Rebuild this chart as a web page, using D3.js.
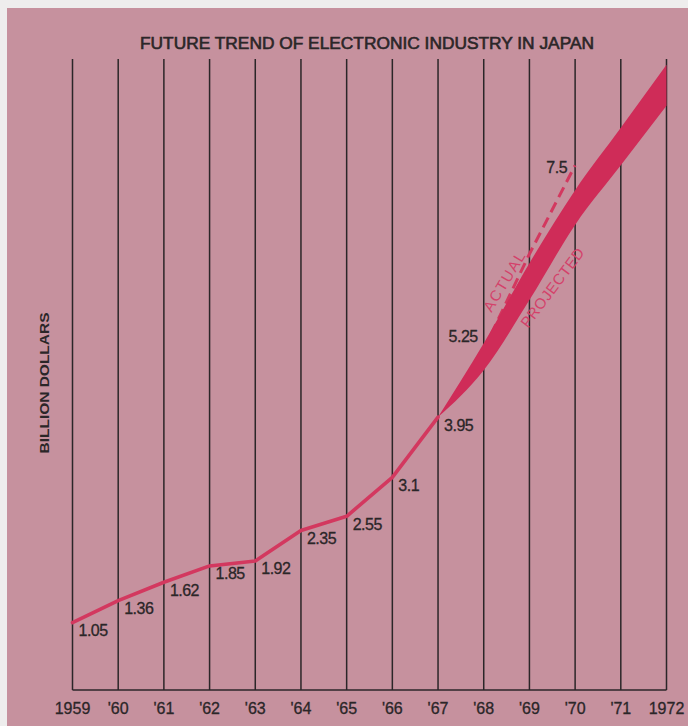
<!DOCTYPE html>
<html>
<head>
<meta charset="utf-8">
<script src="https://cdn.jsdelivr.net/npm/d3@7/dist/d3.min.js"></script>
<style>
  html, body { margin: 0; padding: 0; background: #eeeded; }
  svg { display: block; }
</style>
</head>
<body>
<div id="chart"></div>
<script>
// ---------- data ----------
const years = [1959, 1960, 1961, 1962, 1963, 1964, 1965, 1966, 1967, 1968, 1969, 1970, 1971, 1972];
const yearLabels = ["1959", "'60", "'61", "'62", "'63", "'64", "'65", "'66", "'67", "'68", "'69", "'70", "'71", "1972"];

const pastYears = [1959, 1960, 1961, 1962, 1963, 1964, 1965, 1966, 1967];
const pastValues = [1.05, 1.36, 1.62, 1.85, 1.92, 2.35, 2.55, 3.1, 3.95];

const projYears = [1967, 1968, 1969, 1970, 1971, 1972];
const projLow  = [3.95, 4.61, 5.60, 6.66, 7.50, 8.34];
const projHigh = [3.95, 4.99, 6.12, 7.15, 8.03, 8.92];

const actualYears = [1968, 1969, 1970];
const actualValues = [4.9, 6.25, 7.5];

const extraLabels = [
  { year: 1968, value: 5.25, text: "5.25" },
  { year: 1970, value: 7.5, text: "7.5" }
];

const title = "FUTURE TREND OF ELECTRONIC INDUSTRY IN JAPAN";
const yTitle = "BILLION DOLLARS";

// ---------- layout ----------
const W = 688, H = 726;
const bg = "#c6919e";
const red = "#d3385f";
const band = "#cf2c58";
const ink = "#2b2628";

const svg = d3.select("#chart").append("svg")
  .attr("width", W).attr("height", H);

svg.append("rect").attr("x", 7).attr("y", 8).attr("width", W - 7).attr("height", H - 8).attr("fill", bg);

const x = d3.scaleLinear().domain([1959, 1972]).range([72.5, 666.5]);
const y = d3.scaleLinear().domain([0.1, 9]).range([690, 59]);

const plotTop = y(9), plotBottom = y(0.1);

// vertical grid lines
svg.append("g").selectAll("line").data(years).join("line")
  .attr("x1", d => x(d)).attr("x2", d => x(d))
  .attr("y1", plotTop).attr("y2", plotBottom)
  .attr("stroke", ink).attr("stroke-width", 1.5);

// baseline
svg.append("line")
  .attr("x1", x(1959)).attr("x2", x(1972))
  .attr("y1", plotBottom).attr("y2", plotBottom)
  .attr("stroke", ink).attr("stroke-width", 1.6);

// year labels
svg.append("g").selectAll("text").data(years).join("text")
  .attr("x", d => x(d)).attr("y", plotBottom + 18)
  .attr("text-anchor", "middle").attr("dominant-baseline", "central")
  .attr("font-family", "Liberation Sans, Arial, sans-serif")
  .attr("font-size", 16).attr("fill", ink)
  .attr("stroke", ink).attr("stroke-width", 0.3)
  .text((d, i) => yearLabels[i]);

// title
svg.append("text")
  .attr("x", 367).attr("y", 49)
  .attr("text-anchor", "middle")
  .attr("font-family", "Liberation Sans, Arial, sans-serif")
  .attr("font-size", 16.5)
  .attr("stroke", ink).attr("stroke-width", 0.6)
  .attr("textLength", 454).attr("lengthAdjust", "spacingAndGlyphs")
  .attr("fill", ink).text(title);

// y title
svg.append("text")
  .attr("transform", "translate(49,383) rotate(-90)")
  .attr("text-anchor", "middle")
  .attr("font-family", "Liberation Sans, Arial, sans-serif")
  .attr("font-weight", "bold").attr("font-size", 12)
  .attr("textLength", 141).attr("lengthAdjust", "spacingAndGlyphs")
  .attr("fill", ink).text(yTitle);

// dashed actual line (under band)
const actualData = actualYears.map((d, i) => ({ year: d, v: actualValues[i] }));
svg.append("path").datum(actualData)
  .attr("d", d3.line().x(d => x(d.year)).y(d => y(d.v)))
  .attr("fill", "none").attr("stroke", red).attr("stroke-width", 3)
  .attr("stroke-dasharray", "11,6");

// projected band
const projData = projYears.map((d, i) => ({ year: d, lo: projLow[i], hi: projHigh[i] }));
svg.append("path").datum(projData)
  .attr("d", d3.area().curve(d3.curveMonotoneX)
    .x(d => x(d.year)).y0(d => y(d.lo)).y1(d => y(d.hi)))
  .attr("fill", band);

// past line
const pastData = pastYears.map((d, i) => ({ year: d, v: pastValues[i] }));
svg.append("path").datum(pastData)
  .attr("d", d3.line().x(d => x(d.year)).y(d => y(d.v)))
  .attr("fill", "none").attr("stroke", red).attr("stroke-width", 3.6)
  .attr("stroke-linejoin", "round").attr("stroke-linecap", "round");

// value labels
const lblFont = "Liberation Sans, Arial, sans-serif";
svg.append("g").selectAll("text").data(pastData).join("text")
  .attr("x", d => x(d.year) + 6).attr("y", d => y(d.v) + 8)
  .attr("dominant-baseline", "central")
  .attr("font-family", lblFont).attr("font-size", 16).attr("fill", ink)
  .attr("stroke", ink).attr("stroke-width", 0.3)
  .attr("letter-spacing", -0.5)
  .text(d => String(d.v));

svg.append("text")
  .attr("x", x(extraLabels[0].year) - 6).attr("y", y(extraLabels[0].value) + 12)
  .attr("text-anchor", "end").attr("dominant-baseline", "central")
  .attr("font-family", lblFont).attr("font-size", 16).attr("fill", ink)
  .attr("stroke", ink).attr("stroke-width", 0.3)
  .attr("letter-spacing", -0.5)
  .text(extraLabels[0].text);

svg.append("text")
  .attr("x", x(extraLabels[1].year) - 8).attr("y", y(extraLabels[1].value) + 2)
  .attr("text-anchor", "end").attr("dominant-baseline", "central")
  .attr("font-family", lblFont).attr("font-size", 16).attr("fill", ink)
  .attr("stroke", ink).attr("stroke-width", 0.3)
  .attr("letter-spacing", -0.5)
  .text(extraLabels[1].text);

// ACTUAL / PROJECTED annotations
svg.append("text")
  .attr("transform", `translate(${x(1968.45)},${y(5.87)}) rotate(-59)`)
  .attr("text-anchor", "middle").attr("dominant-baseline", "central")
  .attr("font-family", lblFont).attr("font-size", 15).attr("letter-spacing", 1.5)
  .attr("fill", "#d4416a").text("ACTUAL");

svg.append("text")
  .attr("transform", `translate(${x(1969.5)},${y(5.78)}) rotate(-53)`)
  .attr("text-anchor", "middle").attr("dominant-baseline", "central")
  .attr("font-family", lblFont).attr("font-size", 15).attr("letter-spacing", 0.5)
  .attr("fill", "#d4416a").text("PROJECTED");
</script>
</body>
</html>
